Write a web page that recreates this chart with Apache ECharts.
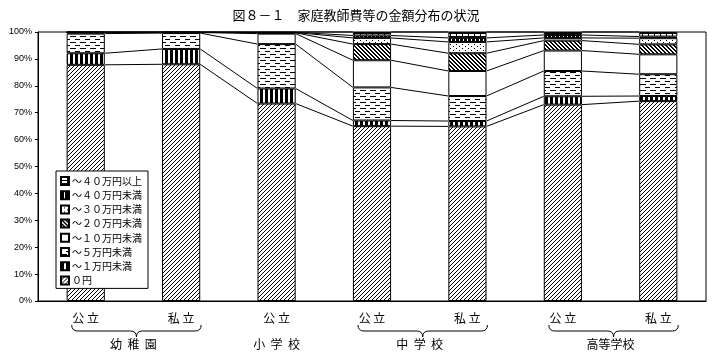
<!DOCTYPE html>
<html><head><meta charset="utf-8">
<script src="https://cdn.jsdelivr.net/npm/echarts@6/dist/echarts.min.js"></script>
<style>html,body{margin:0;padding:0;background:#fff}#c{width:712px;height:355px}</style>
</head><body><div id="c"></div>
<script>
const categories = ['幼稚園公立','幼稚園私立','小学校公立','中学校公立','中学校私立','高等学校公立','高等学校私立'];
const xLabels = ['公 立','私 立','公 立','公 立','私 立','公 立','私 立'];
const groupNames = ['幼  稚  園','小  学  校','中  学  校','高等学校'];
const groupFrom = [0, 2, 3, 5];
const groupTo = [1, 2, 4, 6];
const seriesNames = ['０円','～１万円未満','～５万円未満','～１０万円未満','～２０万円未満','～３０万円未満','～４０万円未満','～４０万円以上'];
const v0 = [87.8, 88.0, 73.4, 65.0, 64.9, 73.0, 74.3];
const v1 = [4.3, 5.7, 5.6, 2.1, 2.0, 3.1, 1.9];
const v2 = [7.3, 5.9, 16.5, 12.3, 9.3, 9.4, 8.1];
const v3 = [0.4, 0.2, 3.9, 10.1, 9.3, 7.6, 7.4];
const v4 = [0.1, 0.1, 0.3, 6.0, 6.6, 3.7, 3.7];
const v5 = [0.0, 0.0, 0.1, 2.3, 4.2, 1.0, 2.3];
const v6 = [0.0, 0.0, 0.1, 0.9, 1.5, 1.1, 0.6];
const v7 = [0.1, 0.1, 0.1, 1.3, 2.2, 1.1, 1.7];
const yTicks = [0,10,20,30,40,50,60,70,80,90,100];

const values = [v0,v1,v2,v3,v4,v5,v6,v7];
// cumulative tops
const cum = values.map((_, k) => categories.map((_, i) => {
  let s = 0; for (let j = 0; j <= k; j++) s += values[j][i]; return s;
}));

function pat(w, h, fn) {
  const c = document.createElement('canvas'); c.width = w; c.height = h;
  const ctx = c.getContext('2d'); const img = ctx.createImageData(w, h);
  for (let y = 0; y < h; y++) for (let x = 0; x < w; x++) {
    const o = (y * w + x) * 4; const b = fn(x, y) ? 0 : 255;
    img.data[o] = b; img.data[o+1] = b; img.data[o+2] = b; img.data[o+3] = 255;
  }
  ctx.putImageData(img, 0, 0);
  return { image: c, repeat: 'repeat' };
}
const fills = [
  pat(4, 4, (x, y) => (x + y) % 4 === 3),                 // hatch /
  pat(5, 1, (x, y) => x < 3),                              // vertical bars
  pat(10, 6, (x, y) => (y === 0 && x < 6) || (y === 3 && x >= 5)), // dashes
  '#ffffff',                                               // white
  pat(4, 4, (x, y) => ((x - y + 8) % 4) < 2),              // backslash
  pat(6, 4, (x, y) => (x === 0 && y === 0) || (x === 3 && y === 2)), // dots
  pat(4, 1, (x, y) => x !== 3),                            // dense black
  pat(6, 3, (x, y) => y === 0 || x === 0)                  // grid
];

const BAR_RATIO = 0.4;
const barSeries = values.map((arr, k) => ({
  name: seriesNames[k], type: 'bar', stack: 'all', barWidth: '40%',
  data: arr,
  itemStyle: { color: fills[k], borderColor: '#000', borderWidth: 1 },
  emphasis: { disabled: true },
  animation: false
}));

const gapData = categories.slice(0, -1).map((_, i) => [i]);
const lineSeries = {
  type: 'custom', silent: true, animation: false, z: 3,
  data: gapData,
  renderItem: function (params, api) {
    const i = api.value(0);
    const bw = api.size([1, 0])[0] * BAR_RATIO;
    const children = [];
    for (let k = 0; k < cum.length; k++) {
      const p1 = api.coord([i, cum[k][i]]);
      const p2 = api.coord([i + 1, cum[k][i + 1]]);
      children.push({ type: 'line', shape: { x1: p1[0] + bw / 2, y1: p1[1], x2: p2[0] - bw / 2, y2: p2[1] },
        style: { stroke: '#000', lineWidth: 1 } });
    }
    return { type: 'group', children };
  }
};

const groupData = groupNames.map((n, g) => [groupFrom[g], groupTo[g], g]);
const braceSeries = {
  type: 'custom', silent: true, animation: false, clip: false,
  data: groupData,
  renderItem: function (params, api) {
    const f = api.value(0), t = api.value(1), g = api.value(2);
    const pf = api.coord([f, 0]), pt = api.coord([t, 0]);
    const y0 = pf[1];
    const mid = (pf[0] + pt[0]) / 2;
    const children = [];
    if (t > f) {
      const x1 = pf[0] - 14, x2 = pt[0] + 20, xm = (x1 + x2) / 2;
      const yt = y0 + 24, yh = y0 + 30, yb = y0 + 36, r = 6;
      children.push({ type: 'path', shape: {
        pathData: `M${x1},${yt} Q${x1},${yh} ${x1 + r},${yh} L${xm - r},${yh} Q${xm},${yh} ${xm},${yb} Q${xm},${yh} ${xm + r},${yh} L${x2 - r},${yh} Q${x2},${yh} ${x2},${yt}`
      }, style: { fill: null, stroke: '#000', lineWidth: 1 } });
    }
    children.push({ type: 'text', style: { text: groupNames[g], x: mid, y: y0 + 43, align: 'center', verticalAlign: 'middle',
      font: '12px "Noto Sans CJK JP"', fill: '#000' } });
    return { type: 'group', children };
  }
};

const chart = echarts.init(document.getElementById('c'), null, { renderer: 'canvas' });
chart.setOption({
  backgroundColor: '#fff',
  animation: false,
  title: { text: '図８－１　家庭教師費等の金額分布の状況', left: 'center', top: 4,
    textStyle: { fontSize: 13, fontWeight: 'normal', color: '#000', fontFamily: 'Noto Sans CJK JP' } },
  legend: {
    data: seriesNames.slice().reverse(), orient: 'vertical', left: 56, top: 171,
    backgroundColor: '#fff', borderColor: '#000', borderWidth: 1, padding: [4, 6, 2, 4],
    itemWidth: 8, itemHeight: 8, itemGap: 2.2, icon: 'rect', selectedMode: false,
    textStyle: { fontSize: 10, lineHeight: 12, color: '#000', fontFamily: 'Noto Sans CJK JP', padding: [0, 0, 0, -2] }
  },
  grid: { left: 38, right: 6, top: 32, bottom: 54, show: true, borderColor: '#000', borderWidth: 1, backgroundColor: 'transparent' },
  xAxis: {
    type: 'category', data: categories,
    axisLine: { lineStyle: { color: '#000' } },
    axisTick: { inside: true, length: 4, interval: 0, lineStyle: { color: '#000' } },
    axisLabel: { interval: 0, margin: 11, fontSize: 12, color: '#000', fontFamily: 'Noto Sans CJK JP',
      formatter: (v, i) => xLabels[i] }
  },
  yAxis: {
    type: 'value', min: yTicks[0], max: yTicks[yTicks.length - 1], interval: yTicks[1] - yTicks[0],
    axisLine: { show: true, lineStyle: { color: '#000' } },
    axisTick: { show: true, length: 3, lineStyle: { color: '#000' } },
    splitLine: { show: false },
    axisLabel: { formatter: '{value}%', fontSize: 9, color: '#000', margin: 6, fontFamily: 'Liberation Sans' }
  },
  series: barSeries.concat([lineSeries, braceSeries])
});
</script></body></html>
